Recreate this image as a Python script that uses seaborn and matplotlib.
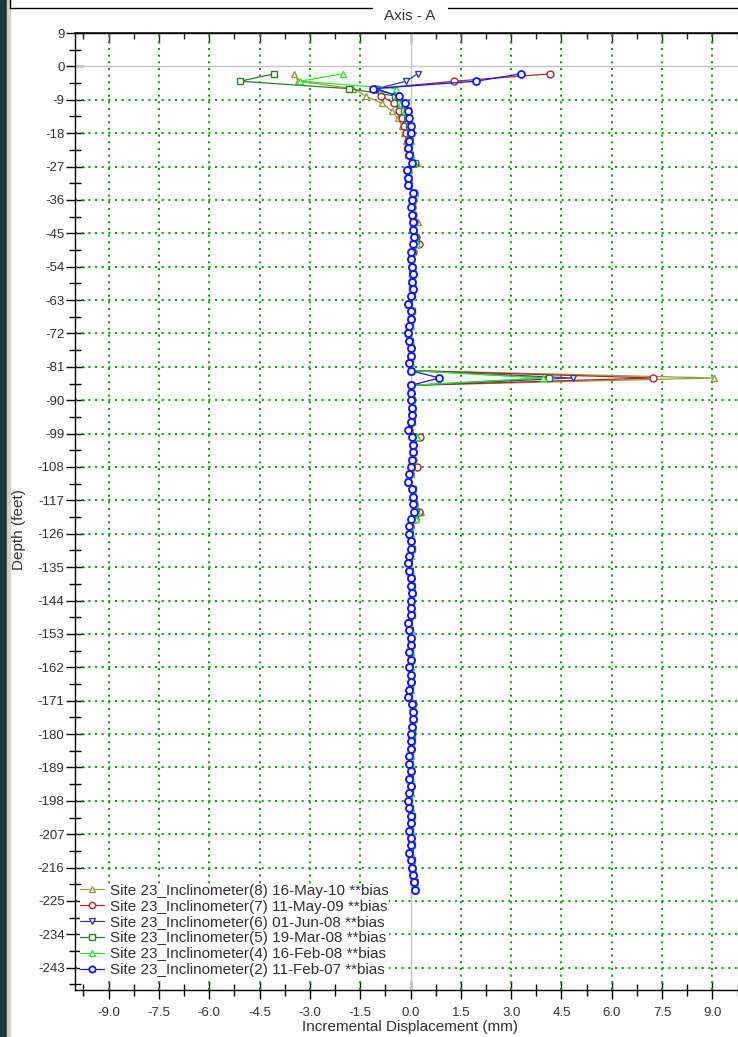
import numpy as np
import pandas as pd
import seaborn as sns
import matplotlib.pyplot as plt
from matplotlib.ticker import MultipleLocator, FormatStrFormatter
from matplotlib.patches import Rectangle
from matplotlib.lines import Line2D

# --- datos (profundidad cada 2 ft, -2 a -222) ---
depth = np.arange(-2, -224, -2)

series_names = [
    'Site 23_Inclinometer(8) 16-May-10 **bias',
    'Site 23_Inclinometer(7) 11-May-09 **bias',
    'Site 23_Inclinometer(6) 01-Jun-08 **bias',
    'Site 23_Inclinometer(5) 19-Mar-08 **bias',
    'Site 23_Inclinometer(4) 16-Feb-08 **bias',
    'Site 23_Inclinometer(2) 11-Feb-07 **bias',
]

incl_8 = [
    -3.46, -3.35, -1.70, -1.33, -0.85, -0.55, -0.38, -0.25, -0.18, -0.12,
    -0.10, -0.06, 0.20, -0.08, -0.08, -0.06, 0.12, 0.06, 0.04, 0.08,
    0.22, 0.10, 0.14, 0.20, 0.05, 0.02, 0.04, 0.06, 0.05, 0.06,
    0.03, -0.06, 0.02, 0.00, -0.03, -0.08, -0.03, 0.00, 0.00, -0.03,
    0.00, 9.04, 0.00, 0.00, 0.02, 0.04, 0.04, 0.02, -0.05, 0.25,
    0.08, 0.06, 0.06, 0.15, -0.02, -0.08, 0.05, 0.10, 0.14, 0.30,
    0.14, -0.02, -0.03, 0.00, 0.02, -0.03, -0.06, -0.03, 0.00, 0.02,
    0.04, 0.00, 0.00, 0.02, -0.06, -0.03, 0.00, 0.00, -0.03, 0.00,
    -0.03, 0.00, 0.00, -0.03, -0.06, 0.05, 0.06, 0.06, 0.04, 0.02,
    0.02, 0.00, -0.03, -0.03, 0.00, -0.03, 0.00, -0.03, -0.06, -0.03,
    0.02, 0.00, -0.03, 0.00, 0.02, -0.03, 0.02, 0.04, 0.06, 0.10,
    0.12,
]

incl_7 = [
    4.17, 1.31, -1.05, -0.88, -0.48, -0.33, -0.25, -0.18, -0.12, -0.08,
    -0.08, -0.05, 0.08, -0.10, -0.08, -0.06, 0.10, 0.06, 0.04, 0.08,
    0.10, 0.08, 0.16, 0.25, 0.06, 0.02, 0.05, 0.06, 0.05, 0.06,
    0.02, -0.06, 0.02, 0.00, -0.03, -0.08, -0.03, 0.00, 0.00, -0.03,
    0.00, 7.23, 0.00, 0.00, 0.02, 0.04, 0.04, 0.02, -0.05, 0.29,
    0.08, 0.06, 0.06, 0.20, -0.02, -0.08, 0.05, 0.08, 0.10, 0.24,
    0.12, -0.02, -0.03, 0.00, 0.02, -0.03, -0.06, -0.03, 0.00, 0.02,
    0.04, 0.00, 0.00, 0.02, -0.06, -0.03, 0.00, 0.00, -0.03, 0.00,
    -0.03, 0.00, 0.00, -0.03, -0.06, 0.08, 0.06, 0.06, 0.04, 0.02,
    0.02, 0.00, -0.03, -0.03, 0.00, -0.03, 0.00, -0.03, -0.06, -0.03,
    0.02, 0.00, -0.03, 0.00, 0.02, -0.03, 0.02, 0.04, 0.06, 0.10,
    0.12,
]

incl_6 = [
    0.21, -0.13, -1.00, -0.40, -0.15, -0.08, -0.04, 0.00, 0.00, -0.02,
    -0.05, -0.02, 0.05, -0.08, -0.07, -0.05, 0.09, 0.05, 0.03, 0.06,
    0.07, 0.07, 0.12, 0.08, 0.03, 0.01, 0.05, 0.07, 0.05, 0.06,
    0.03, -0.05, 0.03, 0.01, -0.02, -0.07, -0.02, 0.01, 0.01, -0.02,
    0.01, 4.83, 0.02, 0.02, 0.03, 0.05, 0.05, 0.03, -0.05, 0.08,
    0.07, 0.07, 0.05, 0.03, -0.02, -0.07, 0.05, 0.07, 0.07, 0.12,
    0.05, -0.02, -0.02, 0.01, 0.03, -0.02, -0.05, -0.02, 0.01, 0.03,
    0.05, 0.01, 0.01, 0.03, -0.05, -0.02, 0.01, 0.01, -0.02, 0.01,
    -0.02, 0.01, 0.01, -0.02, -0.05, 0.05, 0.07, 0.07, 0.05, 0.03,
    0.03, 0.01, -0.02, -0.02, 0.01, -0.02, 0.01, -0.02, -0.05, -0.02,
    0.03, 0.01, -0.02, 0.01, 0.03, -0.02, 0.03, 0.05, 0.07, 0.12,
    0.14,
]

incl_5 = [
    -4.06, -5.08, -1.84, -0.45, -0.30, -0.18, -0.10, -0.05, -0.02, -0.03,
    -0.05, -0.02, 0.12, -0.08, -0.06, -0.05, 0.10, 0.05, 0.03, 0.06,
    0.08, 0.07, 0.12, 0.15, 0.04, 0.01, 0.05, 0.05, 0.05, 0.05,
    0.03, -0.05, 0.03, 0.01, -0.02, -0.07, -0.02, 0.01, 0.01, -0.02,
    0.01, 4.14, 0.01, 0.01, 0.03, 0.05, 0.04, 0.03, -0.05, 0.12,
    0.07, 0.07, 0.05, 0.02, -0.02, -0.07, 0.06, 0.08, 0.10, 0.16,
    0.10, -0.02, -0.02, 0.01, 0.03, -0.02, -0.05, -0.02, 0.01, 0.03,
    0.05, 0.01, 0.01, 0.03, -0.05, -0.02, 0.01, 0.01, -0.02, 0.01,
    -0.02, 0.01, 0.01, -0.02, -0.05, 0.05, 0.07, 0.08, 0.05, 0.03,
    0.03, 0.01, -0.02, -0.02, 0.01, -0.02, 0.01, -0.02, -0.05, -0.02,
    0.03, 0.01, -0.02, 0.01, 0.03, -0.02, 0.03, 0.05, 0.07, 0.11,
    0.12,
]

incl_4 = [
    -2.02, -3.29, -0.43, -0.40, -0.28, -0.15, -0.05, 0.00, 0.02, 0.00,
    -0.03, 0.00, 0.10, -0.05, -0.05, -0.03, 0.12, 0.06, 0.04, 0.08,
    0.10, 0.08, 0.14, 0.18, 0.05, 0.02, 0.06, 0.04, 0.06, 0.05,
    0.04, -0.03, 0.04, 0.02, 0.00, -0.05, 0.00, 0.02, 0.02, 0.00,
    0.02, 3.94, 0.02, 0.02, 0.04, 0.06, 0.05, 0.04, -0.03, 0.18,
    0.08, 0.08, 0.06, 0.04, 0.00, -0.05, 0.08, 0.10, 0.12, 0.20,
    0.15, 0.00, 0.00, 0.02, 0.04, 0.00, -0.03, 0.00, 0.02, 0.04,
    0.06, 0.02, 0.02, 0.04, -0.04, 0.00, 0.02, 0.02, 0.00, 0.02,
    0.00, 0.02, 0.02, 0.00, -0.04, 0.06, 0.08, 0.10, 0.06, 0.04,
    0.04, 0.02, 0.00, 0.00, 0.02, 0.00, 0.02, 0.00, -0.04, 0.00,
    0.04, 0.02, 0.00, 0.02, 0.04, 0.00, 0.04, 0.06, 0.08, 0.12,
    0.14,
]

incl_2 = [
    3.29, 1.96, -1.12, -0.35, -0.15, -0.08, -0.03, 0.00, 0.00, -0.03,
    -0.06, -0.03, 0.04, -0.10, -0.08, -0.06, 0.08, 0.04, 0.02, 0.05,
    0.06, 0.06, 0.11, 0.06, 0.02, 0.00, 0.04, 0.06, 0.04, 0.06,
    0.02, -0.06, 0.02, 0.00, -0.03, -0.08, -0.03, 0.00, 0.00, -0.03,
    0.00, 0.86, 0.01, 0.01, 0.02, 0.04, 0.04, 0.02, -0.06, 0.04,
    0.06, 0.06, 0.04, 0.00, -0.03, -0.08, 0.04, 0.06, 0.06, 0.09,
    0.02, -0.03, -0.03, 0.00, 0.02, -0.03, -0.06, -0.03, 0.00, 0.02,
    0.04, 0.00, 0.00, 0.02, -0.06, -0.03, 0.00, 0.00, -0.03, 0.00,
    -0.03, 0.00, 0.00, -0.03, -0.06, 0.04, 0.06, 0.06, 0.04, 0.02,
    0.02, 0.00, -0.03, -0.03, 0.00, -0.03, 0.00, -0.03, -0.06, -0.03,
    0.02, 0.00, -0.03, 0.00, 0.02, -0.03, 0.02, 0.04, 0.06, 0.11,
    0.13,
]

series_values = [incl_8, incl_7, incl_6, incl_5, incl_4, incl_2]
series_colors = ['#9a9a3a', '#a82828', '#3a3a9e', '#2e7d2e', '#33e033', '#1414ff']
series_markers = ['^', 'o', 'v', 's', '^', 'o']

x_ticks_step = 1.5
y_ticks_step = 9

# --- tabla larga para seaborn ---
frames = []
for name, vals in zip(series_names, series_values):
    frames.append(pd.DataFrame({'serie': name, 'depth': depth, 'disp': vals}))
df = pd.concat(frames, ignore_index=True)

sns.set_theme(style='white')
plt.rcParams['font.family'] = ['Liberation Sans', 'DejaVu Sans']

W, H = 738, 1037
fig = plt.figure(figsize=(W / 100, H / 100), dpi=100)
fig.patch.set_facecolor('white')

# marco de la ventana
fig.patches.append(Rectangle((0, 0), 7 / W, 1, transform=fig.transFigure,
                             color='#1f3a45', zorder=0))
fig.patches.append(Rectangle((7 / W, 0), 3 / W, 1, transform=fig.transFigure,
                             color='#d4d0c6', zorder=0))
fig.lines.append(Line2D([10 / W, 10 / W], [1, 1 - 8 / H], transform=fig.transFigure,
                        color='black', lw=1))
fig.lines.append(Line2D([10 / W, 372 / W], [1 - 8 / H, 1 - 8 / H], transform=fig.transFigure,
                        color='black', lw=1))
fig.lines.append(Line2D([448 / W, 1], [1 - 8 / H, 1 - 8 / H], transform=fig.transFigure,
                        color='black', lw=1))
fig.text(410 / W, 1 - 16 / H, 'Axis - A', ha='center', va='center', fontsize=11, color='#333333')

ax = fig.add_axes([75 / W, 1 - 990 / H, 671 / W, 957 / H])

for name, col, mk in zip(series_names, series_colors, series_markers):
    sub = df[df['serie'] == name]
    sns.lineplot(data=sub, x='disp', y='depth', sort=False, estimator=None, ax=ax,
                 color=col, linewidth=0.9, marker=mk, markersize=5,
                 markerfacecolor='white', markeredgecolor=col,
                 markeredgewidth=1.3 if col == '#1414ff' else 1.0,
                 label=name, zorder=3)

ax.set_xlim(-10, 10)
ax.set_ylim(-249, 9)

ax.xaxis.set_major_locator(MultipleLocator(x_ticks_step))
ax.xaxis.set_minor_locator(MultipleLocator(x_ticks_step / 2))
ax.yaxis.set_major_locator(MultipleLocator(y_ticks_step))
ax.yaxis.set_minor_locator(MultipleLocator(y_ticks_step / 2))
ax.xaxis.set_major_formatter(FormatStrFormatter('%.1f'))
ax.yaxis.set_major_formatter(FormatStrFormatter('%d'))

# rejilla verde punteada y lineas grises en cero
for xv in np.arange(-9, 9.1, x_ticks_step):
    if abs(xv) > 1e-9:
        ax.axvline(xv, color='#18a018', lw=1.5, ls=(0, (1, 2.2)), zorder=1)
for yv in np.arange(-243, 9.1, y_ticks_step):
    if abs(yv) > 1e-9 and yv < 9:
        ax.axhline(yv, color='#18a018', lw=1.5, ls=(0, (1, 2.2)), zorder=1)
ax.axvline(0, color='#c4c4c4', lw=1.0, zorder=1)
ax.axhline(0, color='#c4c4c4', lw=1.0, zorder=1)

for side in ['left', 'bottom', 'top']:
    ax.spines[side].set_color('black')
    ax.spines[side].set_linewidth(1.0)
ax.spines['right'].set_visible(False)

ax.tick_params(axis='both', which='major', direction='inout', length=13, width=1,
               color='black', labelsize=9.5, labelcolor='#303030',
               left=True, bottom=True)
ax.tick_params(axis='x', which='major', pad=6)
ax.tick_params(axis='y', which='major', pad=1)
ax.tick_params(axis='both', which='minor', direction='inout', length=8, width=1,
               color='black', left=True, bottom=True)

top = ax.secondary_xaxis('top')
top.xaxis.set_major_locator(MultipleLocator(x_ticks_step))
top.xaxis.set_minor_locator(MultipleLocator(x_ticks_step / 2))
top.tick_params(which='major', direction='in', length=7, width=1, labeltop=False)
top.tick_params(which='minor', direction='in', length=4, width=1)

ax.set_xlabel('')
ax.set_ylabel('')
fig.text(410 / W, 1 - 1027 / H, 'Incremental Displacement (mm)', ha='center', va='center',
         fontsize=11, color='#303030')
fig.text(19 / W, 1 - 530 / H, 'Depth (feet)', ha='center', va='center', rotation=90,
         fontsize=11, color='#303030')

handles, labels = ax.get_legend_handles_labels()
leg = ax.legend(handles, labels, loc='lower left', bbox_to_anchor=(80 / W, 1 - 977 / H),
                bbox_transform=fig.transFigure, frameon=True, fontsize=11,
                handlelength=1.6, handletextpad=0.35, labelspacing=0.12,
                borderpad=0, borderaxespad=0, labelcolor='#303030', markerscale=0.9)
leg.get_frame().set_facecolor('white')
leg.get_frame().set_edgecolor('none')
leg.get_frame().set_alpha(1)
leg.set_zorder(5)

plt.savefig('out.png', dpi=100)
